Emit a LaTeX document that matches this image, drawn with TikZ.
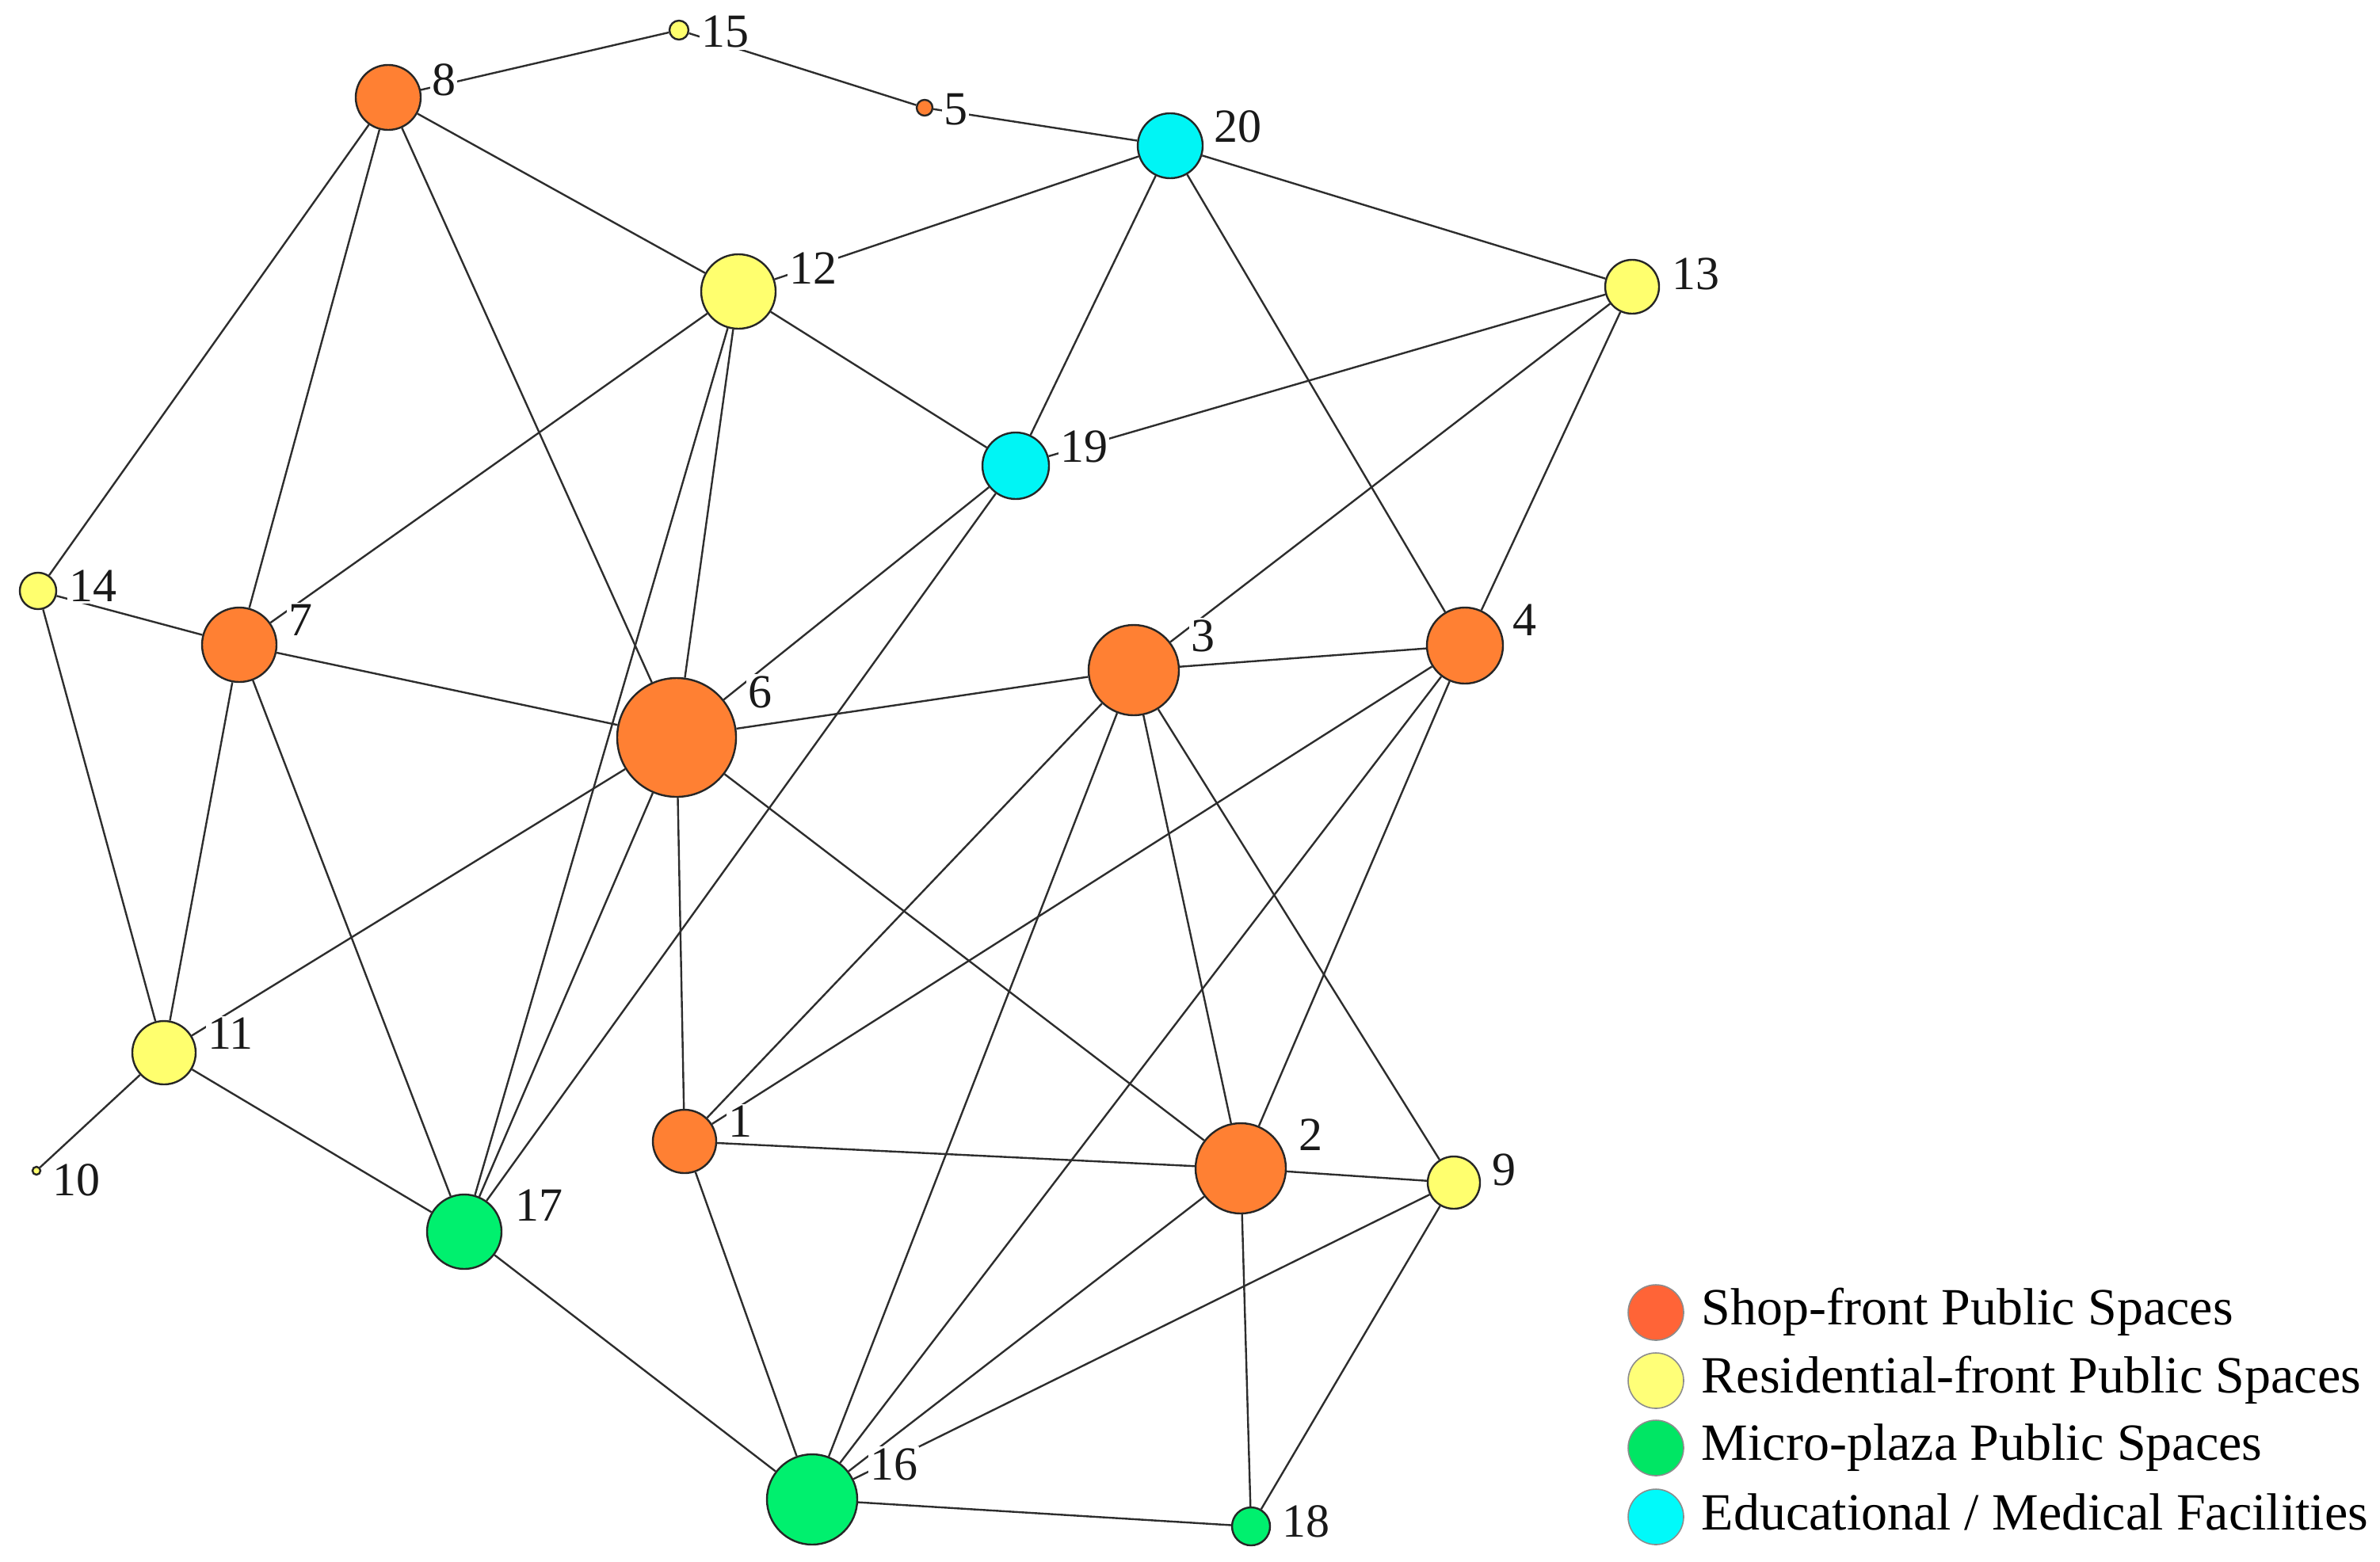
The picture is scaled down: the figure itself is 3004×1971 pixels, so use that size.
\documentclass[tikz,border=0pt]{standalone}
\usepackage{fontspec}
\setmainfont{Liberation Serif}
\definecolor{cshop}{RGB}{255,128,51}
\definecolor{cres}{RGB}{255,255,110}
\definecolor{cmic}{RGB}{0,240,110}
\definecolor{cedu}{RGB}{0,245,245}
\definecolor{lshop}{RGB}{255,100,55}
\definecolor{lres}{RGB}{255,255,120}
\definecolor{lmic}{RGB}{0,230,100}
\definecolor{ledu}{RGB}{0,250,250}
\definecolor{edgec}{RGB}{45,45,45}
\tikzset{
  vtx/.style={circle, draw=black!85, line width=0.6pt, inner sep=0pt},
  shop/.style={vtx, fill=cshop},
  res/.style={vtx, fill=cres},
  mic/.style={vtx, fill=cmic},
  edu/.style={vtx, fill=cedu},
  lbl/.style={fill=white, inner sep=0.6pt, font=\fontsize{15}{15}\selectfont, text=black!90},
  link/.style={draw=edgec, line width=0.6pt},
  legdot/.style={circle, draw=black!45, line width=0.4pt, inner sep=0pt, minimum size=17.5pt},
  legtxt/.style={anchor=base west, inner sep=0pt, font=\fontsize{16.5}{16.5}\selectfont}
}
\begin{document}
\begin{tikzpicture}[x=0.25pt, y=-0.25pt]
\useasboundingbox (0,0) rectangle (3004,1971);
% nodes
\node[shop, minimum size=20.5pt] (n8) at (490,123) {};
\node[res, minimum size=6pt] (n15) at (857,38) {};
\node[shop, minimum size=5pt] (n5) at (1167,136) {};
\node[edu, minimum size=20.5pt] (n20) at (1477,184) {};
\node[res, minimum size=23.5pt] (n12) at (932,368) {};
\node[res, minimum size=17pt] (n13) at (2060,362) {};
\node[edu, minimum size=21pt] (n19) at (1282,588) {};
\node[res, minimum size=11.5pt] (n14) at (48,746) {};
\node[shop, minimum size=23.5pt] (n7) at (302,814) {};
\node[shop, minimum size=37.5pt] (n6) at (854,931) {};
\node[shop, minimum size=28.5pt] (n3) at (1431,846) {};
\node[shop, minimum size=24pt] (n4) at (1849,815) {};
\node[res, minimum size=20pt] (n11) at (207,1329) {};
\node[res, minimum size=2.5pt] (n10) at (46,1478) {};
\node[mic, minimum size=23.5pt] (n17) at (586,1555) {};
\node[shop, minimum size=20pt] (n1) at (864,1441) {};
\node[shop, minimum size=28.5pt] (n2) at (1566,1475) {};
\node[res, minimum size=16.5pt] (n9) at (1835,1493) {};
\node[mic, minimum size=28.5pt] (n16) at (1025,1893) {};
\node[mic, minimum size=12pt] (n18) at (1579,1927) {};
% edges
\foreach \a/\b in {8/15, 15/5, 5/20, 8/14, 8/7, 8/6, 8/12, 20/12, 20/19, 20/13, 20/4,
  12/7, 12/19, 12/6, 12/17, 19/13, 19/6, 19/17, 13/3, 13/4, 14/7, 14/11,
  7/6, 7/11, 7/17, 6/3, 6/11, 6/17, 6/1, 6/2, 11/10, 11/17, 17/16,
  1/3, 1/4, 1/2, 1/16, 3/4, 3/16, 3/2, 3/9, 4/16, 4/2, 2/9, 2/16, 2/18,
  9/16, 9/18, 16/18}
  \draw[link] (n\a) -- (n\b);
% labels
\node[lbl] (l8) at (560,101) {8};
\node[lbl] (l15) at (915,40) {15};
\node[lbl] (l5) at (1206,138) {5};
\node[lbl] (l20) at (1562,160) {20};
\node[lbl] (l12) at (1026,339) {12};
\node[lbl] (l13) at (2140,346) {13};
\node[lbl] (l19) at (1368,564) {19};
\node[lbl] (l14) at (117,740) {14};
\node[lbl] (l7) at (379,783) {7};
\node[lbl] (l6) at (959,874) {6};
\node[lbl] (l3) at (1518,803) {3};
\node[lbl] (l4) at (1924,783) {4};
\node[lbl] (l11) at (291,1305) {11};
\node[lbl] (l10) at (96,1490) {10};
\node[lbl] (l17) at (680,1522) {17};
\node[lbl] (l1) at (934,1416) {1};
\node[lbl] (l2) at (1654,1433) {2};
\node[lbl] (l9) at (1898,1477) {9};
\node[lbl] (l16) at (1128,1849) {16};
\node[lbl] (l18) at (1648,1921) {18};
% legend
\node[legdot, fill=lshop] (k1) at (2090,1657) {};
\node[legdot, fill=lres] (k2) at (2090,1743) {};
\node[legdot, fill=lmic] (k3) at (2090,1828) {};
\node[legdot, fill=ledu] (k4) at (2090,1915) {};
\node[legtxt] (t1) at (2147,1672) {Shop-front Public Spaces};
\node[legtxt] (t2) at (2147,1758) {Residential-front Public Spaces};
\node[legtxt] (t3) at (2147,1843) {Micro-plaza Public Spaces};
\node[legtxt] (t4) at (2147,1931) {Educational / Medical Facilities};
\end{tikzpicture}
\end{document}
